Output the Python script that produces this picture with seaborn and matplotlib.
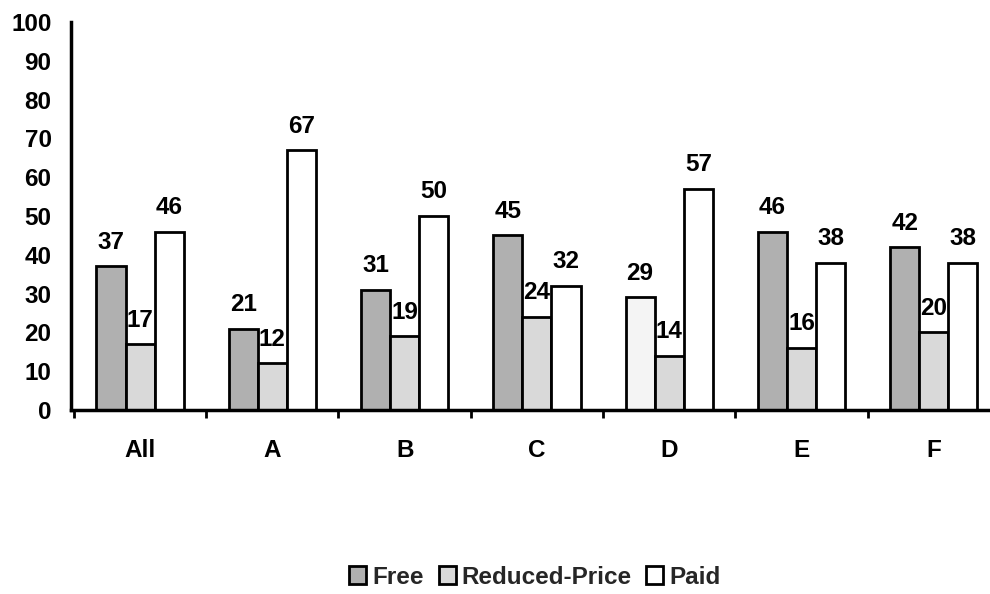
import matplotlib
matplotlib.use("Agg")
import matplotlib.pyplot as plt
import seaborn as sns
import pandas as pd
from matplotlib.patches import Patch
from matplotlib.ticker import FixedLocator

categories = ["All", "A", "B", "C", "D", "E", "F"]
series = ["Free", "Reduced-Price", "Paid"]
free = [37, 21, 31, 45, 29, 46, 42]
reduced = [17, 12, 19, 24, 14, 16, 20]
paid = [46, 67, 50, 32, 57, 38, 38]
y_ticks = list(range(0, 101, 10))

sns.set_theme(style="white")
plt.rcParams['font.family'] = ['Liberation Sans', 'DejaVu Sans']
plt.rcParams['font.weight'] = 'bold'

df = pd.DataFrame({
    "category": categories * 3,
    "series": [s for s in series for _ in categories],
    "value": free + reduced + paid,
})

colors = {"Free": "#b0b0b0", "Reduced-Price": "#d9d9d9", "Paid": "#ffffff"}
FS = 17.5

fig = plt.figure(figsize=(9.9, 5.94), dpi=100)
ax = fig.add_axes([71 / 990, 1 - 410 / 594, (990 - 71) / 990, (410 - 22) / 594])
sns.barplot(data=df, x="category", y="value", hue="series", order=categories,
            hue_order=series, palette=colors, width=0.66, gap=0,
            edgecolor="black", linewidth=2, saturation=1, ax=ax,
            legend=False, errorbar=None)

# scanned reference shows the D "Free" bar almost white
ax.containers[0][categories.index("D")].set_facecolor("#f4f4f4")

for cont in ax.containers:
    ax.bar_label(cont, padding=9, fontsize=FS, fontweight='bold', color='black')

ax.set_ylim(0, 100)
ax.set_yticks(y_ticks)
ax.set_xlim(-0.522, 6.425)
ax.set_xlabel("")
ax.set_ylabel("")
for s in ["top", "right"]:
    ax.spines[s].set_visible(False)
for s in ["left", "bottom"]:
    ax.spines[s].set_linewidth(2.5)
    ax.spines[s].set_color("black")

ax.tick_params(axis='y', length=0, pad=14, labelsize=FS, labelcolor='black')
ax.tick_params(axis='x', which='major', length=0, pad=21, labelsize=FS, labelcolor='black')
ax.xaxis.set_minor_locator(FixedLocator([i - 0.5 for i in range(len(categories) + 1)]))
ax.tick_params(axis='x', which='minor', bottom=True, length=6, width=2, color='black', direction='out')
for lab in ax.get_xticklabels() + ax.get_yticklabels():
    lab.set_fontweight('bold')

handles = [Patch(facecolor=colors[s], edgecolor='black', linewidth=2, label=s) for s in series]
fig.legend(handles=handles, loc='center', bbox_to_anchor=(535 / 990, 1 - 577 / 594),
           ncol=3, frameon=False, handlelength=0.7, handleheight=0.7,
           handletextpad=0.25, columnspacing=0.6, prop={'weight': 'bold', 'size': FS})

fig.savefig("out.png", dpi=100, facecolor='white')
